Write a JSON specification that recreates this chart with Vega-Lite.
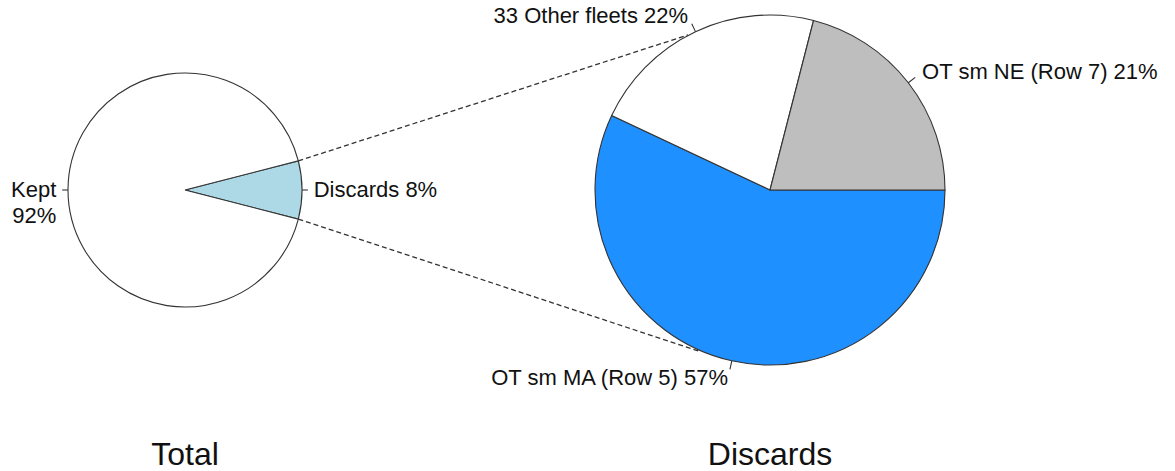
{
  "$schema": "https://vega.github.io/schema/vega-lite/v6.json",
  "width": 1175,
  "height": 471,
  "autosize": {"type": "fit", "contains": "padding"},
  "padding": 0,
  "background": "white",
  "config": {"view": {"stroke": null}, "text": {"font": "Liberation Sans", "color": "#111111"}},
  "datasets": {
    "total": [
      {"name": "Discards", "label": "Discards 8%", "pct": 8, "i": 0},
      {"name": "Kept", "label": "Kept\n92%", "pct": 92, "i": 1}
    ],
    "discards": [
      {"name": "OT sm MA (Row 5)", "label": "OT sm MA (Row 5) 57%", "pct": 57, "i": 0},
      {"name": "33 Other fleets", "label": "33 Other fleets 22%", "pct": 22, "i": 1},
      {"name": "OT sm NE (Row 7)", "label": "OT sm NE (Row 7) 21%", "pct": 21, "i": 2}
    ],
    "connectors": [
      {"x": 0.9686, "y": 0.2487, "x2": 4.299, "y2": 1.325},
      {"x": 0.9686, "y": -0.2487, "x2": 4.402, "y2": -1.38}
    ],
    "ticks": [
      {"x": 1.0, "y": 0.0, "x2": 1.05, "y2": 0.0},
      {"x": -1.0, "y": 0.0, "x2": -1.05, "y2": 0.0},
      {"x": 6.1822, "y": 0.9169, "x2": 6.2413, "y2": 0.9628},
      {"x": 4.363, "y": 1.3536, "x2": 4.3311, "y2": 1.4213},
      {"x": 4.6737, "y": -1.46, "x2": 4.6574, "y2": -1.533}
    ]
  },
  "layer": [
    {
      "data": {"name": "total"},
      "encoding": {
        "x": {"datum": 0, "type": "quantitative", "scale": {"domain": [-1.5812, 8.4615], "nice": false, "zero": false}, "axis": null},
        "y": {"datum": 0, "type": "quantitative", "scale": {"domain": [-2.4017, 1.6239], "nice": false, "zero": false}, "axis": null},
        "theta": {"field": "pct", "type": "quantitative", "stack": true, "scale": {"domain": [0, 100], "range": [1.31947, 7.60265]}},
        "order": {"field": "i", "type": "quantitative"}
      },
      "layer": [
        {
          "mark": {"type": "arc", "outerRadius": 117, "stroke": "#333333", "strokeWidth": 1.1},
          "encoding": {
            "color": {"field": "name", "type": "nominal", "legend": null,
              "scale": {"domain": ["Kept", "Discards", "33 Other fleets", "OT sm NE (Row 7)", "OT sm MA (Row 5)"], "range": ["#FFFFFF", "#ADD8E6", "#FFFFFF", "#BEBEBE", "#1E90FF"]}}
          }
        },
        {
          "mark": {"type": "text", "radius": 128.7, "align": "left", "baseline": "middle", "fontSize": 22, "lineBreak": "\n", "lineHeight": 26},
          "encoding": {
            "detail": {"field": "name"},
            "text": {"condition": {"test": "datum.name === 'Discards'", "field": "label"}, "value": ""}
          }
        },
        {
          "mark": {"type": "text", "radius": 128.7, "align": "right", "baseline": "middle", "fontSize": 22, "lineBreak": "\n", "lineHeight": 26},
          "encoding": {
            "detail": {"field": "name"},
            "text": {"condition": {"test": "datum.name === 'Kept'", "field": "label"}, "value": ""}
          }
        }
      ]
    },
    {
      "data": {"name": "discards"},
      "encoding": {
        "x": {"datum": 5, "type": "quantitative", "scale": {"domain": [-1.5812, 8.4615], "nice": false, "zero": false}, "axis": null},
        "y": {"datum": 0, "type": "quantitative", "scale": {"domain": [-2.4017, 1.6239], "nice": false, "zero": false}, "axis": null},
        "theta": {"field": "pct", "type": "quantitative", "stack": true, "scale": {"domain": [0, 100], "range": [1.5708, 7.854]}},
        "order": {"field": "i", "type": "quantitative"}
      },
      "layer": [
        {
          "mark": {"type": "arc", "outerRadius": 175, "stroke": "#333333", "strokeWidth": 1.1},
          "encoding": {
            "color": {"field": "name", "type": "nominal", "legend": null,
              "scale": {"domain": ["Kept", "Discards", "33 Other fleets", "OT sm NE (Row 7)", "OT sm MA (Row 5)"], "range": ["#FFFFFF", "#ADD8E6", "#FFFFFF", "#BEBEBE", "#1E90FF"]}}
          }
        },
        {
          "mark": {"type": "text", "radius": 192.5, "align": "left", "baseline": "middle", "fontSize": 22},
          "encoding": {
            "detail": {"field": "name"},
            "text": {"condition": {"test": "datum.name === 'OT sm NE (Row 7)'", "field": "label"}, "value": ""}
          }
        },
        {
          "mark": {"type": "text", "radius": 192.5, "align": "right", "baseline": "middle", "fontSize": 22},
          "encoding": {
            "detail": {"field": "name"},
            "text": {"condition": {"test": "datum.name !== 'OT sm NE (Row 7)'", "field": "label"}, "value": ""}
          }
        }
      ]
    },
    {
      "data": {"name": "connectors"},
      "mark": {"type": "rule", "color": "#333333", "strokeWidth": 1.3, "strokeDash": [5, 3]},
      "encoding": {
        "x": {"field": "x", "type": "quantitative", "scale": {"domain": [-1.5812, 8.4615], "nice": false, "zero": false}, "axis": null},
        "y": {"field": "y", "type": "quantitative", "scale": {"domain": [-2.4017, 1.6239], "nice": false, "zero": false}, "axis": null},
        "x2": {"field": "x2"},
        "y2": {"field": "y2"}
      }
    },
    {
      "data": {"name": "ticks"},
      "mark": {"type": "rule", "color": "#333333", "strokeWidth": 1.1},
      "encoding": {
        "x": {"field": "x", "type": "quantitative", "scale": {"domain": [-1.5812, 8.4615], "nice": false, "zero": false}, "axis": null},
        "y": {"field": "y", "type": "quantitative", "scale": {"domain": [-2.4017, 1.6239], "nice": false, "zero": false}, "axis": null},
        "x2": {"field": "x2"},
        "y2": {"field": "y2"}
      }
    },
    {
      "data": {"values": [{}]},
      "mark": {"type": "text", "text": "Total", "fontSize": 32, "align": "center", "baseline": "alphabetic"},
      "encoding": {
        "x": {"datum": 0, "type": "quantitative", "scale": {"domain": [-1.5812, 8.4615], "nice": false, "zero": false}, "axis": null},
        "y": {"datum": -2.35, "type": "quantitative", "scale": {"domain": [-2.4017, 1.6239], "nice": false, "zero": false}, "axis": null}
      }
    },
    {
      "data": {"values": [{}]},
      "mark": {"type": "text", "text": "Discards", "fontSize": 32, "align": "center", "baseline": "alphabetic"},
      "encoding": {
        "x": {"datum": 5, "type": "quantitative", "scale": {"domain": [-1.5812, 8.4615], "nice": false, "zero": false}, "axis": null},
        "y": {"datum": -2.35, "type": "quantitative", "scale": {"domain": [-2.4017, 1.6239], "nice": false, "zero": false}, "axis": null}
      }
    }
  ],
  "resolve": {"scale": {"theta": "independent"}}
}
